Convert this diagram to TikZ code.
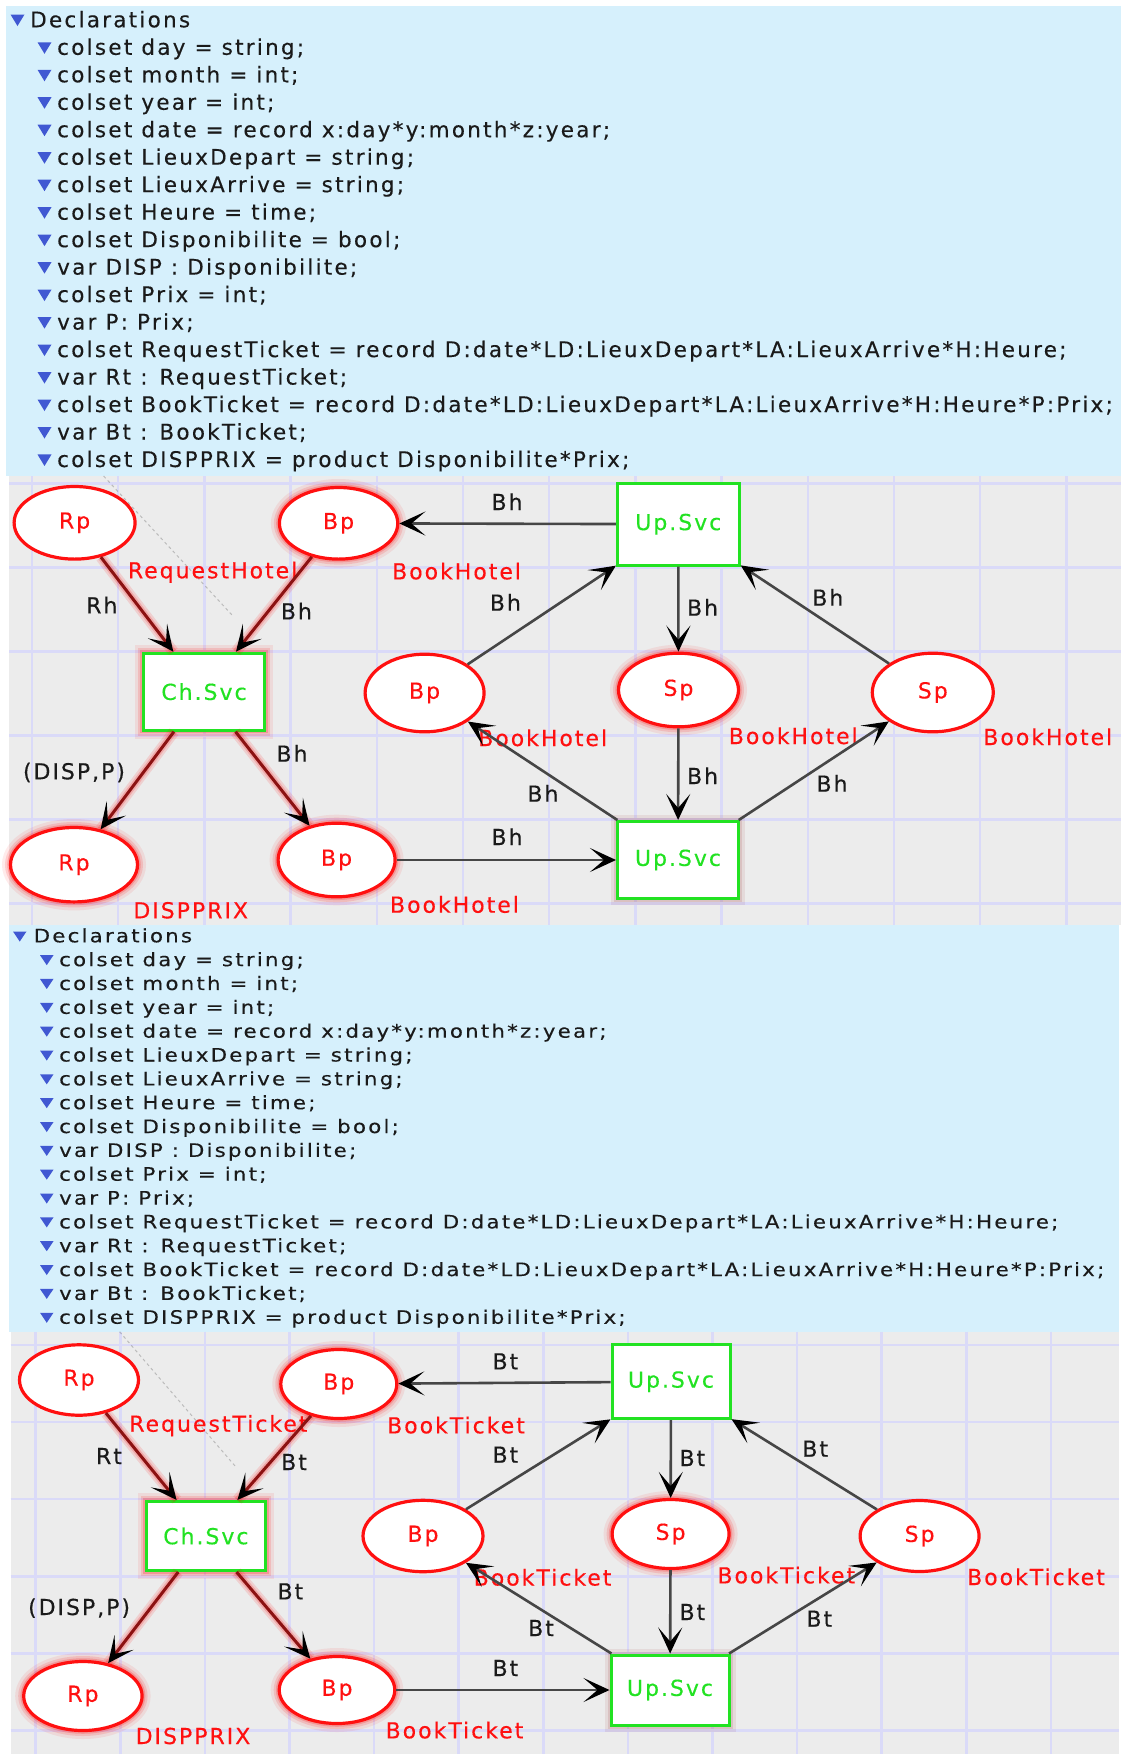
\documentclass[tikz,border=0pt]{standalone}
\usepackage{fontspec}
\usepackage{graphicx}
\setmainfont{DejaVu Sans}
\newfontfamily\declfont{DejaVu Sans}[LetterSpace=10.5,FakeBold=0.3]
\newfontfamily\netfont{DejaVu Sans}[LetterSpace=9.0,FakeBold=0.3]
\usetikzlibrary{shapes.geometric,arrows.meta}

\definecolor{panelbg}{RGB}{214,240,252}
\definecolor{gridbg}{RGB}{236,236,236}
\definecolor{gridln}{RGB}{218,218,248}
\definecolor{marker}{RGB}{64,88,210}
\definecolor{placered}{RGB}{255,16,16}
\definecolor{transgreen}{RGB}{34,226,34}
\definecolor{arcgrey}{RGB}{70,70,70}
\definecolor{arcred}{RGB}{140,18,18}
\definecolor{inktext}{RGB}{26,26,26}

\tikzset{
  declline/.style={anchor=base west, inner sep=0pt, text=inktext,
    font=\declfont\fontsize{21.5}{24}\selectfont},
  gridline/.style={draw=gridln, line width=2.5pt},
  place/.style 2 args={ellipse, draw=placered, line width=3.2pt, fill=white,
    inner sep=0pt, minimum width=#1, minimum height=#2, text=placered,
    font=\netfont\fontsize{22}{26}\selectfont},
  trans/.style 2 args={rectangle, draw=transgreen, line width=3pt, fill=white,
    inner sep=0pt, minimum width=#1, minimum height=#2, text=transgreen,
    font=\netfont\fontsize{22}{26}\selectfont},
  glow/.style={preaction={draw=red, draw opacity=.08, line width=17pt},
    preaction={draw=red, draw opacity=.13, line width=11pt},
    preaction={draw=red, draw opacity=.20, line width=6.5pt}},
  softglow/.style={preaction={draw=arcred, draw opacity=.08, line width=13pt},
    preaction={draw=arcred, draw opacity=.12, line width=7pt}},
  inscr/.style={anchor=base, inner sep=0pt, text=inktext,
    font=\netfont\fontsize{22}{26}\selectfont},
  cset/.style={anchor=base, inner sep=0pt, text=placered,
    font=\netfont\fontsize{22}{26}\selectfont},
  tip/.style={-{Stealth[length=26pt,width=24pt,inset=14pt,color=black]}},
  arc/.style={draw=arcgrey, line width=2.6pt, tip},
  redarc/.style={draw=arcred, line width=3pt, tip,
    preaction={draw=red, draw opacity=.12, line width=11pt, arrows=-},
    preaction={draw=red, draw opacity=.18, line width=6.5pt, arrows=-}},
  decllink/.style={draw=gray, draw opacity=.45, line width=1pt,
    dash pattern=on 3pt off 3pt},
}

\newcommand{\panellines}{colset day = string;, colset month = int;,
  colset year = int;, colset date = record x:day*y:month*z:year;,
  colset LieuxDepart = string;, colset LieuxArrive = string;,
  colset Heure = time;, colset Disponibilite = bool;,
  var DISP : Disponibilite;, colset Prix = int;, var P: Prix;,
  colset RequestTicket = record D:date*LD:LieuxDepart*LA:LieuxArrive*H:Heure;,
  var Rt : RequestTicket;,
  colset BookTicket = record D:date*LD:LieuxDepart*LA:LieuxArrive*H:Heure*P:Prix;,
  var Bt : BookTicket;, colset DISPPRIX = product Disponibilite*Prix;}

\begin{document}
\begin{tikzpicture}[x=1pt, y=-1pt]
\useasboundingbox (0,0) rectangle (1121,1754);
\fill[white] (0,0) rectangle (1121,1754);

% ---------- declaration panels ----------
\fill[panelbg] (5.6,5.6) rectangle (1121,476);
\fill[panelbg] (9,925) rectangle (1119,1331.7);

% first panel
\node[declline] (da-head) at (30,27.3) {Declarations};
\fill[marker] (10.5,14.5) -- (24.5,14.5) -- (17.5,26) -- cycle;
\foreach \t [count=\i] in \panellines {
  \node[declline] (da-\i) at (57,{27.3+27.48*\i}) {\t};
  \fill[marker] (37.5,{27.3+27.48*\i-12.5}) -- (51.5,{27.3+27.48*\i-12.5})
    -- (44.5,{27.3+27.48*\i-1}) -- cycle;
}

% second panel (set a little tighter)
\node[declline] (db-head) at (33.5,942.3) {\scalebox{0.99}[0.86]{Declarations}};
\fill[marker] (13,931.5) -- (26.5,931.5) -- (19.75,941.5) -- cycle;
\foreach \t [count=\i] in \panellines {
  \node[declline] (db-\i) at (59,{942.3+23.84*\i}) {\scalebox{0.99}[0.86]{\t}};
  \fill[marker] (40,{942.3+23.84*\i-11}) -- (53.5,{942.3+23.84*\i-11})
    -- (46.75,{942.3+23.84*\i-1}) -- cycle;
}

% ---------- net canvases ----------
\fill[gridbg] (9,476) rectangle (1121,925);
\fill[gridbg] (10.7,1331.7) rectangle (1119,1754);
\begin{scope}
  \clip (9,476) rectangle (1121,925);
  \foreach \k in {0,...,12} \draw[gridline] ({32+86.2*\k},476) -- ({32+86.2*\k},925);
  \foreach \k in {0,...,5} \draw[gridline] (9,{483.3+84*\k}) -- (1121,{483.3+84*\k});
\end{scope}
\begin{scope}
  \clip (10.7,1331.7) rectangle (1119,1754);
  \foreach \k in {0,...,12} \draw[gridline] ({35.7+84.6*\k},1331.7) -- ({35.7+84.6*\k},1754);
  \foreach \k in {0,...,5} \draw[gridline] (10.7,{1345+77.1*\k}) -- (1119,{1345+77.1*\k});
\end{scope}

% faint links from the declarations
\coordinate (dl1a) at (103.6,476);
\coordinate (dl1b) at (232,615);
\draw[decllink] (dl1a) -- (dl1b);
\coordinate (dl2a) at (119.6,1331.7);
\coordinate (dl2b) at (235.7,1466.7);
\draw[decllink] (dl2a) -- (dl2b);

% ================= hotel net =================
\node[place={121}{72.6}] (rpA1) at (74.6,522.8) {Rp};
\node[place={118.4}{71.6}, glow] (bpA1) at (338.6,523.3) {Bp};
\node[trans={121}{77}, glow] (ch1) at (204,691.7) {Ch.Svc};
\node[place={119}{77.6}] (bpM1) at (424.6,693) {Bp};
\node[place={127}{74.4}, glow] (rpB1) at (74,864.7) {Rp};
\node[place={117}{73.6}, glow] (bpB1) at (336.6,860) {Bp};
\node[trans={121.8}{82}] (upT1) at (678.3,524.2) {Up.Svc};
\node[place={120}{73.6}, glow] (spM1) at (678.5,690) {Sp};
\node[place={121}{78.6}] (spR1) at (932.8,692.5) {Sp};
\node[trans={121}{77}, softglow] (upB1) at (678,860) {Up.Svc};

\node[cset] (cs1a) at (212.6,578.3) {RequestHotel};
\node[cset] (cs1b) at (456.6,579.3) {BookHotel};
\node[cset] (cs1c) at (542.7,746) {BookHotel};
\node[cset] (cs1d) at (793.3,744) {BookHotel};
\node[cset] (cs1e) at (1047.8,745) {BookHotel};
\node[cset] (cs1f) at (190.7,918.3) {DISPPRIX};
\node[cset] (cs1g) at (454.5,912.7) {BookHotel};

\draw[redarc] (rpA1) -- (ch1);
\draw[redarc] (bpA1) -- (ch1);
\draw[redarc] (ch1) -- (rpB1);
\draw[redarc] (ch1) -- (bpB1);
\draw[arc] (upT1) -- (bpA1);
\draw[arc] (bpM1) -- (upT1);
\draw[arc] (upT1) -- (spM1);
\draw[arc] (spR1) -- (upT1);
\draw[arc] (spM1) -- (upB1);
\draw[arc] (upB1) -- (bpM1);
\draw[arc] (upB1) -- (spR1);
\draw[arc] (bpB1) -- (upB1);

\node[inscr] (in1a) at (101.8,613.3) {Rh};
\node[inscr] (in1b) at (296.4,619.3) {Bh};
\node[inscr] (in1c) at (507,510) {Bh};
\node[inscr] (in1d) at (505.4,610.7) {Bh};
\node[inscr] (in1e) at (74,779.3) {(DISP,P)};
\node[inscr] (in1f) at (292,761.7) {Bh};
\node[inscr] (in1g) at (542.9,801.7) {Bh};
\node[inscr] (in1h) at (507,845) {Bh};
\node[inscr] (in1i) at (702.6,615.7) {Bh};
\node[inscr] (in1j) at (827.8,605.7) {Bh};
\node[inscr] (in1k) at (702.6,784) {Bh};
\node[inscr] (in1l) at (832,791.7) {Bh};

% ================= ticket net =================
\node[place={119}{70.4}] (rpA2) at (79,1380) {Rp};
\node[place={116}{69}, glow] (bpA2) at (338.8,1384) {Bp};
\node[trans={119.5}{69}, glow] (ch2) at (205.9,1536) {Ch.Svc};
\node[place={120}{71.4}] (bpM2) at (423,1536) {Bp};
\node[place={118.4}{69}, glow] (rpB2) at (82.9,1696) {Rp};
\node[place={115.6}{67}, glow] (bpB2) at (337,1690) {Bp};
\node[trans={118}{73.7}] (upT2) at (671,1381.7) {Up.Svc};
\node[place={117}{69}, glow] (spM2) at (670.6,1534) {Sp};
\node[place={119}{71}] (spR2) at (919.6,1536) {Sp};
\node[trans={118}{70}, softglow] (upB2) at (670,1690) {Up.Svc};

\node[cset] (cs2a) at (218.4,1431.7) {RequestTicket};
\node[cset] (cs2b) at (456,1433.3) {BookTicket};
\node[cset] (cs2c) at (542.6,1585.5) {BookTicket};
\node[cset] (cs2d) at (786.3,1583.3) {BookTicket};
\node[cset] (cs2e) at (1036,1585) {BookTicket};
\node[cset] (cs2f) at (193,1744) {DISPPRIX};
\node[cset] (cs2g) at (454.5,1738.3) {BookTicket};

\draw[redarc] (rpA2) -- (ch2);
\draw[redarc] (bpA2) -- (ch2);
\draw[redarc] (ch2) -- (rpB2);
\draw[redarc] (ch2) -- (bpB2);
\draw[arc] (upT2) -- (bpA2);
\draw[arc] (bpM2) -- (upT2);
\draw[arc] (upT2) -- (spM2);
\draw[arc] (spR2) -- (upT2);
\draw[arc] (spM2) -- (upB2);
\draw[arc] (upB2) -- (bpM2);
\draw[arc] (upB2) -- (spR2);
\draw[arc] (bpB2) -- (upB2);

\node[inscr] (in2a) at (505.4,1369.3) {Bt};
\node[inscr] (in2b) at (109,1464) {Rt};
\node[inscr] (in2c) at (294,1470) {Bt};
\node[inscr] (in2d) at (505.4,1462.7) {Bt};
\node[inscr] (in2e) at (79.1,1615) {(DISP,P)};
\node[inscr] (in2f) at (290.4,1599.3) {Bt};
\node[inscr] (in2g) at (541,1636) {Bt};
\node[inscr] (in2h) at (505.4,1676) {Bt};
\node[inscr] (in2i) at (692.4,1466) {Bt};
\node[inscr] (in2j) at (815.2,1456.7) {Bt};
\node[inscr] (in2k) at (692.4,1620) {Bt};
\node[inscr] (in2l) at (819.3,1626.7) {Bt};
\end{tikzpicture}
\end{document}
